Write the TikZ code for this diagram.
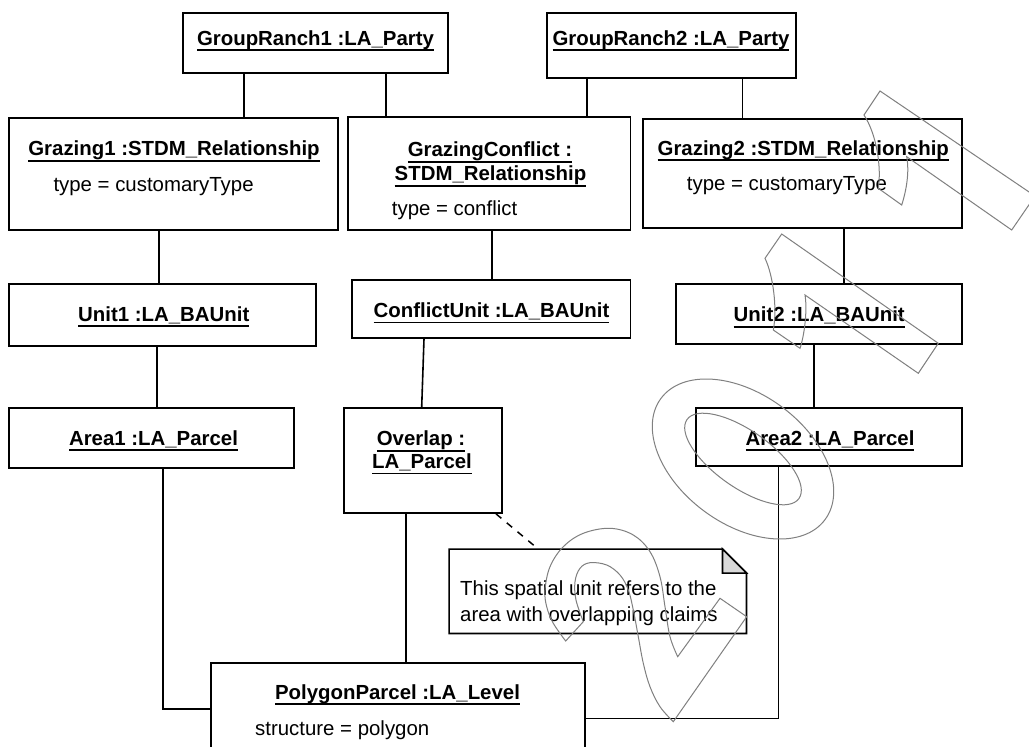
\documentclass[tikz,border=0pt]{standalone}
\usepackage{fontspec}
\setmainfont{Liberation Sans}
\usetikzlibrary{fit}
\newsavebox\ulinebox
% underlined object name (UML instance notation)
\newcommand\ulname[1]{\sbox\ulinebox{#1}\rlap{\rule[-5.9pt]{\wd\ulinebox}{1.7pt}}\usebox\ulinebox}
\definecolor{wmgray}{RGB}{128,128,128}
\definecolor{foldgray}{RGB}{217,217,217}

\begin{document}
\begin{tikzpicture}[x=1pt,y=-1pt,
  objbox/.style={draw=black, line width=1.7pt, inner sep=0pt, fill=white},
  conn/.style={line width=1.6pt, draw=black},
  objtitle/.style={font=\fontsize{20.4}{24}\selectfont\bfseries, anchor=base, inner sep=0pt},
  objattr/.style={font=\fontsize{20.4}{24}\selectfont, anchor=base west, inner sep=0pt},
  wmark/.style={draw=wmgray, line width=1pt}
]
\useasboundingbox (0,0) rectangle (1029,747);
\clip (0,0) rectangle (1029,747);
\fill[white] (0,0) rectangle (1029,747);

% object boxes
\node[objbox, fit={(182.7,13.3) (447.7,72.7)}] (gr1) {};
\node[objbox, fit={(546.7,13.3) (795.7,77.7)}] (gr2) {};
\node[objbox, fit={(9.3,118) (338.3,230)}] (g1) {};
\node[objbox, fit={(347.7,117) (630.5,230)}] (gc) {};
\node[objbox, fit={(642.7,119.3) (961.7,228.3)}] (gz2) {};
\node[objbox, fit={(9.3,284) (316,345.7)}] (u1) {};
\node[objbox, fit={(351.7,280) (630.5,338)}] (cu) {};
\node[objbox, fit={(676,284) (961.7,344)}] (u2) {};
\node[objbox, fit={(9.3,407.7) (294.3,468.3)}] (a1) {};
\node[objbox, fit={(344.3,407.7) (501.7,513)}] (ov) {};
\node[objbox, fit={(696,407.7) (961.7,465.7)}] (a2) {};
\node[objbox, fit={(210.7,663) (585,770)}] (pp) {};

% comment note with folded corner
\node[inner sep=0pt, fit={(449.3,549.3) (746.3,633.3)}] (note) {};
\draw[line width=1.6pt, fill=white, line join=miter]
  (note.north west) -- ([xshift=-24pt]note.north east) -- ([yshift=-24pt]note.north east)
  -- (note.south east) -- (note.south west) -- cycle;
\draw[line width=1.6pt, fill=foldgray, line join=miter]
  ([xshift=-24pt]note.north east) -- ([xshift=-24pt,yshift=-24pt]note.north east)
  -- ([yshift=-24pt]note.north east) -- cycle;

% links
\draw[conn] (244,0 |- gr1.south) -- (244,0 |- g1.north);
\draw[conn] (385.7,0 |- gr1.south) -- (385.7,0 |- gc.north);
\draw[conn] (587,0 |- gr2.south) -- (587,0 |- gc.north);
\draw[conn] (742.3,0 |- gr2.south) -- (742.3,0 |- gz2.north);
\draw[conn] (159,0 |- g1.south) -- (159,0 |- u1.north);
\draw[conn] (491.7,0 |- gc.south) -- (491.7,0 |- cu.north);
\draw[conn] (844,0 |- gz2.south) -- (844,0 |- u2.north);
\draw[conn] (156.7,0 |- u1.south) -- (156.7,0 |- a1.north);
\draw[conn] (424,0 |- cu.south) -- (421.7,0 |- ov.north);
\draw[conn] (814,0 |- u2.south) -- (814,0 |- a2.north);
\draw[conn] (162.7,0 |- a1.south) |- (pp.west |- 0,709);
\draw[conn] (406,0 |- ov.south) -- (406,0 |- pp.north);
\draw[conn] (778.3,0 |- a2.south) |- (pp.east |- 0,718.5);
\draw[line width=1.5pt, dash pattern=on 7pt off 7pt] (496,0 |- ov.south) -- (538.3,0 |- note.north);

% labels
\node[objtitle] (gr1t) at (315.5,45) {\ulname{GroupRanch1 :LA\_Party}};
\node[objtitle] (gr2t) at (671,45) {\ulname{GroupRanch2 :LA\_Party}};
\node[objtitle] (g1t) at (174,155.7) {\ulname{Grazing1 :STDM\_Relationship}};
\node[objattr] (g1a) at (53.3,191) {type = customaryType};
\node[objtitle] (gct1) at (490,156.7) {\ulname{GrazingConflict :}};
\node[objtitle] (gct2) at (490.5,180.7) {\ulname{STDM\_Relationship}};
\node[objattr] (gca) at (391.7,215.5) {type = conflict};
\node[objtitle] (gz2t) at (803.3,155) {\ulname{Grazing2 :STDM\_Relationship}};
\node[objattr] (gz2a) at (686.7,190.5) {type = customaryType};
\node[objtitle] (u1t) at (163.8,321) {\ulname{Unit1 :LA\_BAUnit}};
\node[objtitle] (cut) at (491.5,317.5) {\ulname{ConflictUnit :LA\_BAUnit}};
\node[objtitle] (u2t) at (819.2,321.7) {\ulname{Unit2 :LA\_BAUnit}};
\node[objtitle] (a1t) at (153.5,445) {\ulname{Area1 :LA\_Parcel}};
\node[objtitle] (ovt1) at (421,445.7) {\ulname{Overlap :}};
\node[objtitle] (ovt2) at (422,468.3) {\ulname{LA\_Parcel}};
\node[objtitle] (a2t) at (830,445) {\ulname{Area2 :LA\_Parcel}};
\node[objtitle] (ppt) at (397.5,699) {\ulname{PolygonParcel :LA\_Level}};
\node[objattr] (ppa) at (255,735) {structure = polygon};
\node[objattr] (nt1) at (460,595.7) {This spatial unit refers to the};
\node[objattr] (nt2) at (460,621.7) {area with overlapping claims};

% outlined watermark glyphs
\begin{scope}[wmark]
  % "2"
  \draw plot[smooth, tension=0.6] coordinates {(565.7,641) (553.3,623.3) (546.7,606.7) (545,590)
      (550,566.7) (563.3,546.7) (583.3,533.3) (610,528.3) (633.3,535) (650,551.7) (660,576.7)
      (665,606.7) (670,636.7) (677.7,656.7)}
    -- (720,598.3) -- (746.7,616.7) -- (673.3,721.7)
    -- plot[smooth, tension=0.6] coordinates {(673.3,721.7) (660,706.7) (650,686.7) (643.3,663.3)
      (638.3,636.7) (633.3,610) (628.3,590) (620,575) (606.7,565) (590,562.7) (580,568.3)
      (575,581.7) (576,600) (583.3,621.7)}
    -- cycle;
  % "0"
  \draw[rotate around={-36.4:(743,459)}] (743,459) ellipse [x radius=102pt, y radius=65pt];
  \draw[rotate around={-35.2:(743,459)}] (743,459) ellipse [x radius=68.5pt, y radius=28.4pt];
  % "1"
  \draw (781.7,234) -- (938.3,343.3) -- (918.3,373.3) -- (805,295)
    .. controls (807.5,310) and (804.5,335) .. (800,348.3) -- (773.3,330)
    .. controls (777.5,308) and (773,275) .. (765,258.3) -- cycle;
  % "1"
  \draw (880,91) -- (1035,196) -- (1011.7,230) -- (906.7,156.7)
    .. controls (909.5,172) and (906.5,190) .. (901.7,205) -- (878.3,188.3)
    .. controls (881.5,168) and (877,135) .. (864,115) -- cycle;
\end{scope}
\end{tikzpicture}
\end{document}
